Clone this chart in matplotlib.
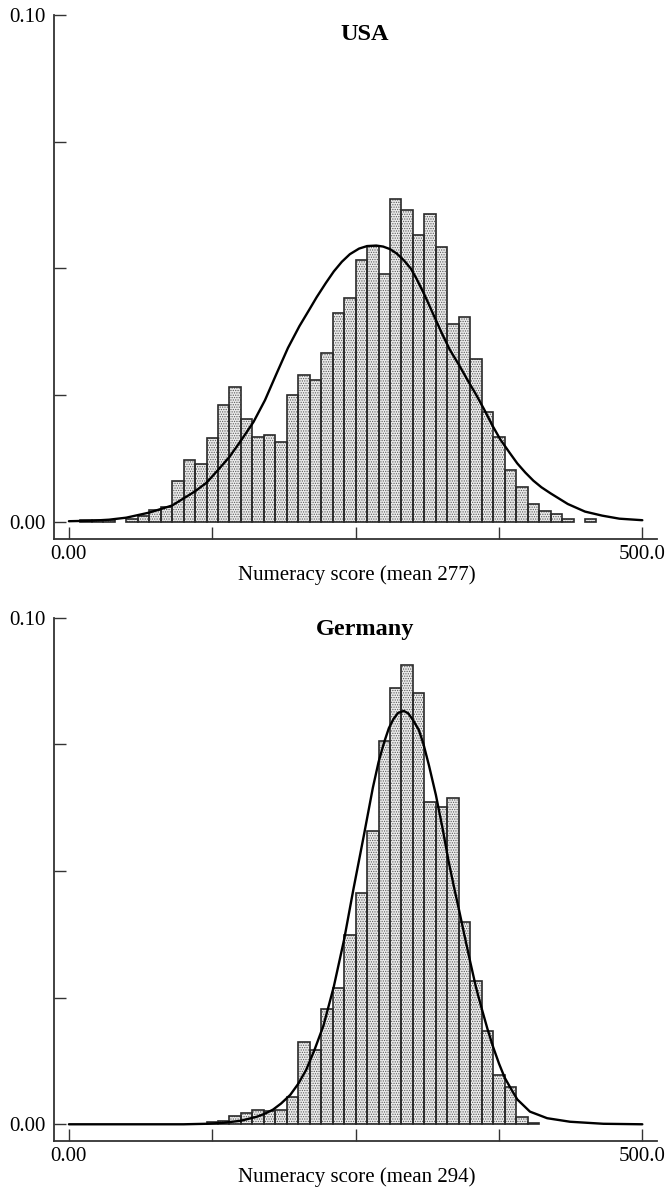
import matplotlib
matplotlib.use("Agg")
import matplotlib.pyplot as plt
import numpy as np

plt.rcParams['font.family'] = ['Liberation Serif', 'DejaVu Serif']
plt.rcParams['hatch.linewidth'] = 0.6

# ---------------- data ----------------
bin_width = 10
usa_bin_left = [10, 20, 30, 50, 60, 70, 80, 90, 100, 110, 120, 130, 140, 150, 160, 170, 180,
                190, 200, 210, 220, 230, 240, 250, 260, 270, 280, 290, 300, 310, 320, 330,
                340, 350, 360, 370, 380, 390, 400, 410, 420, 430, 450]
usa_freq = [0.0004, 0.0004, 0.0004, 0.0005, 0.0012, 0.0024, 0.0030, 0.0080, 0.0122, 0.0113,
            0.0165, 0.0230, 0.0265, 0.0202, 0.0168, 0.0171, 0.0157, 0.0251, 0.0290, 0.0279,
            0.0333, 0.0411, 0.0442, 0.0516, 0.0545, 0.0488, 0.0637, 0.0615, 0.0566, 0.0607,
            0.0542, 0.0390, 0.0404, 0.0322, 0.0217, 0.0168, 0.0103, 0.0069, 0.0034, 0.0022,
            0.0015, 0.0005, 0.0005]
usa_curve_x = [0, 20, 35, 50, 70, 90, 110, 120, 130, 140, 150, 161, 171, 181, 191, 201, 210,
               216, 224, 231, 238, 245, 253, 260, 268, 274, 280, 286, 292, 298, 303, 310, 318,
               325, 332, 340, 347, 355, 362, 369, 376, 384, 391, 398, 405, 412, 420, 435, 450,
               465, 480, 500]
usa_curve_y = [0.0001, 0.0002, 0.0004, 0.0008, 0.0018, 0.0032, 0.0060, 0.0077, 0.0102, 0.0128,
               0.0160, 0.0197, 0.0240, 0.0292, 0.0343, 0.0386, 0.0420, 0.0443, 0.0471, 0.0494,
               0.0513, 0.0528, 0.0539, 0.0544, 0.0545, 0.0543, 0.0538, 0.0529, 0.0516, 0.0500,
               0.0480, 0.0448, 0.0408, 0.0373, 0.0340, 0.0310, 0.0282, 0.0251, 0.0222, 0.0191,
               0.0163, 0.0137, 0.0115, 0.0097, 0.0081, 0.0068, 0.0056, 0.0035, 0.0020, 0.0012,
               0.0006, 0.0003]

ger_bin_left = [120, 130, 140, 150, 160, 170, 180, 190, 200, 210, 220, 230, 240, 250, 260, 270,
                280, 290, 300, 310, 320, 330, 340, 350, 360, 370, 380, 390, 400]
ger_freq = [0.0005, 0.0006, 0.0017, 0.0023, 0.0028, 0.0027, 0.0029, 0.0054, 0.0163, 0.0147,
            0.0228, 0.0269, 0.0374, 0.0456, 0.0578, 0.0756, 0.0861, 0.0906, 0.0851, 0.0637,
            0.0627, 0.0645, 0.0400, 0.0282, 0.0185, 0.0098, 0.0074, 0.0015, 0.0003]
ger_curve_x = [0, 60, 100, 120, 135, 150, 164, 171, 178, 185, 193, 200, 207, 214, 222, 231, 240,
               248, 257, 265, 270, 275, 279, 283, 287, 292, 296, 300, 305, 309, 314, 320, 326,
               331, 336, 340, 345, 350, 355, 360, 365, 370, 375, 380, 386, 391, 402, 417, 437,
               466, 500]
ger_curve_y = [0.0, 0.0, 0.0, 0.0001, 0.0003, 0.0007, 0.0015, 0.0021, 0.0029, 0.0041, 0.0058,
               0.0080, 0.0108, 0.0146, 0.0195, 0.0272, 0.0365, 0.0463, 0.0568, 0.0664, 0.0715,
               0.0755, 0.0782, 0.0800, 0.0812, 0.0816, 0.0811, 0.0798, 0.0779, 0.0752, 0.0708,
               0.0650, 0.0582, 0.0520, 0.0466, 0.0425, 0.0372, 0.0320, 0.0270, 0.0228, 0.0188,
               0.0152, 0.0120, 0.0092, 0.0068, 0.0049, 0.0025, 0.0012, 0.0005, 0.0001, 0.0]

titles = ["USA", "Germany"]
xlabels = ["Numeracy score (mean 277)", "Numeracy score (mean 294)"]
xticks = [0, 125, 250, 375, 500]
xticklabels = ["0.00", "", "", "", "500.0"]
yticks = [0, 0.025, 0.05, 0.075, 0.10]
yticklabels = ["0.00", "", "", "", "0.10"]

# ---------------- layout ----------------
W, H = 670, 1192
fig = plt.figure(figsize=(W / 100, H / 100), dpi=100)

panels = [
    dict(top=15, bottom=539, ylo=-0.00341, title_y=35,
         left=usa_bin_left, freq=usa_freq, cx=usa_curve_x, cy=usa_curve_y),
    dict(top=617.7, bottom=1141, ylo=-0.0033, title_y=629,
         left=ger_bin_left, freq=ger_freq, cx=ger_curve_x, cy=ger_curve_y),
]
ax_left, ax_right = 54, 657
edge_col = '#2a2a2a'

for i, p in enumerate(panels):
    ax = fig.add_axes([ax_left / W, 1 - p['bottom'] / H,
                       (ax_right - ax_left) / W, (p['bottom'] - p['top']) / H])
    ax.set_xlim(-13, 512.8)
    ax.set_ylim(p['ylo'], 0.10)
    # stipple fill
    ax.bar(p['left'], p['freq'], width=bin_width, align='edge',
           facecolor='#ececec', edgecolor='#5a5a5a', linewidth=0, hatch='.......', zorder=2)
    # outlines
    ax.bar(p['left'], p['freq'], width=bin_width, align='edge',
           fill=False, edgecolor=edge_col, linewidth=1.2, zorder=3)
    ax.plot(p['cx'], p['cy'], color='black', lw=1.7, zorder=4,
            solid_joinstyle='round', solid_capstyle='round')

    for s in ['top', 'right']:
        ax.spines[s].set_visible(False)
    for s in ['left', 'bottom']:
        ax.spines[s].set_color('#333333')
        ax.spines[s].set_linewidth(1.3)
    ax.set_xticks(xticks)
    ax.set_xticklabels(xticklabels)
    ax.set_yticks(yticks)
    ax.set_yticklabels(yticklabels)
    ax.tick_params(axis='both', direction='in', length=8.5, width=1.0, color='#333333',
                   labelsize=15, labelcolor='black')
    ax.tick_params(axis='x', pad=4)
    ax.tick_params(axis='y', pad=6)

    h = p['bottom'] - p['top']
    ax.text((365 - ax_left) / (ax_right - ax_left), 1 - (p['title_y'] - p['top']) / h,
            titles[i], transform=ax.transAxes, ha='center', va='center',
            fontsize=17.5, fontweight='bold')
    ax.text(0.5025, -36 / h, xlabels[i], transform=ax.transAxes, ha='center', va='center',
            fontsize=15)

fig.savefig("out.png", dpi=100)
